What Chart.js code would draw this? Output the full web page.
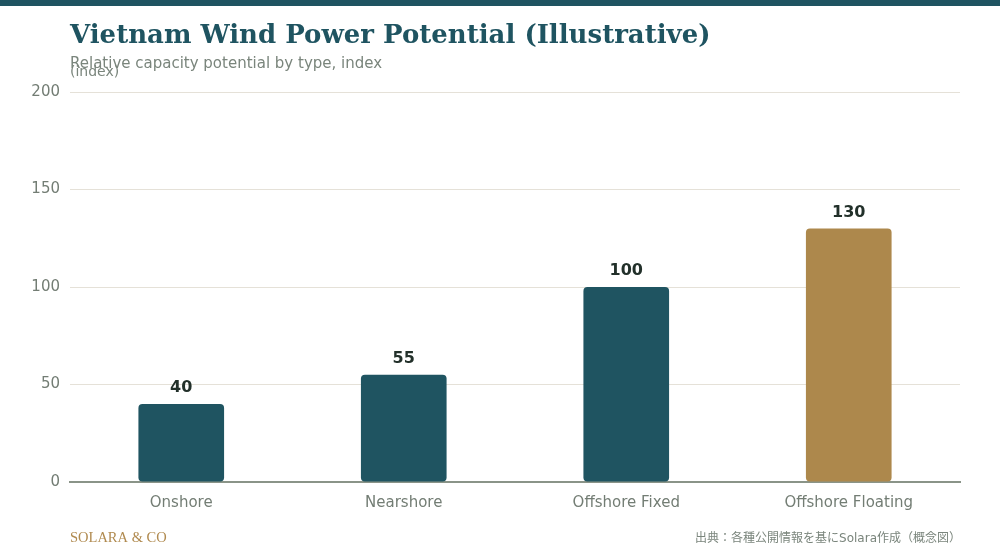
<!DOCTYPE html>
<html><head><meta charset="utf-8">
<script src="https://cdn.jsdelivr.net/npm/chart.js@4"></script>
<style>html,body{margin:0;padding:0;background:#fff;}#wrap{width:1000px;height:560px;position:relative;}</style>
</head><body><div id="wrap"><canvas id="c" width="1000" height="560"></canvas></div>
<script>
const categories = ["Onshore", "Nearshore", "Offshore Fixed", "Offshore Floating"];
const values = [40, 55, 100, 130];
const barColors = ["#1f5461", "#1f5461", "#1f5461", "#ad884c"];
const yTicks = [0, 50, 100, 150, 200];
const titleText = "Vietnam Wind Power Potential (Illustrative)";
const subtitleText = "Relative capacity potential by type, index";
const unitText = "(index)";
const brandText = "SOLARA & CO";
const sourceText = "出典：各種公開情報を基にSolara作成（概念図）";

const deco = {
  id: 'deco',
  afterDraw(chart) {
    const ctx = chart.ctx;
    ctx.save();
    ctx.fillStyle = '#1f5461';
    ctx.fillRect(0, 0, 1000, 6);
    ctx.textAlign = 'left';
    ctx.textBaseline = 'alphabetic';
    ctx.fillStyle = '#1f5461';
    ctx.font = 'bold 26px "DejaVu Serif"';
    ctx.fillText(titleText, 70, 43);
    ctx.fillStyle = '#7a857c';
    ctx.font = '15px "DejaVu Sans"';
    ctx.fillText(subtitleText, 70, 68);
    ctx.font = '14px "DejaVu Sans"';
    ctx.fillText(unitText, 70, 76);
    ctx.fillStyle = '#b08a4f';
    ctx.font = '14.5px "Liberation Serif"';
    ctx.fillText(brandText, 70, 542);
    ctx.fillStyle = '#7a857c';
    ctx.font = '12px "DejaVu Sans", "Noto Sans CJK JP"';
    ctx.textAlign = 'right';
    ctx.fillText(sourceText, 961, 542);
    // value labels
    const meta = chart.getDatasetMeta(0);
    ctx.textAlign = 'center';
    ctx.textBaseline = 'bottom';
    ctx.fillStyle = '#22302a';
    ctx.font = 'bold 16px "DejaVu Sans"';
    meta.data.forEach((bar, i) => {
      ctx.fillText(String(values[i]), bar.x, bar.y - 8);
    });
    ctx.restore();
  }
};

new Chart(document.getElementById('c'), {
  type: 'bar',
  data: {
    labels: categories,
    datasets: [{
      data: values,
      backgroundColor: barColors,
      borderRadius: 4,
      borderSkipped: false,
      barPercentage: 0.55,
      categoryPercentage: 0.7
    }]
  },
  options: {
    responsive: false,
    animation: false,
    devicePixelRatio: 1,
    layout: { padding: { left: 0, right: 40, top: 92, bottom: 0 } },
    plugins: { legend: { display: false }, tooltip: { enabled: false }, title: { display: false } },
    scales: {
      x: {
        afterFit(s) { s.height = 78; },
        grid: { display: false, drawTicks: false },
        border: { display: true, color: '#8a9488', width: 2 },
        ticks: { color: '#737d74', font: { family: 'DejaVu Sans', size: 15 }, padding: 12 }
      },
      y: {
        min: 0, max: 200,
        afterFit(s) { s.width = 70; },
        afterBuildTicks(s) { s.ticks = yTicks.map(v => ({ value: v })); },
        grid: { color: '#e5e1d8', lineWidth: 1, drawTicks: false },
        border: { display: false },
        ticks: { color: '#737d74', font: { family: 'DejaVu Sans', size: 15 }, padding: 10 }
      }
    }
  },
  plugins: [deco]
});
</script></body></html>
